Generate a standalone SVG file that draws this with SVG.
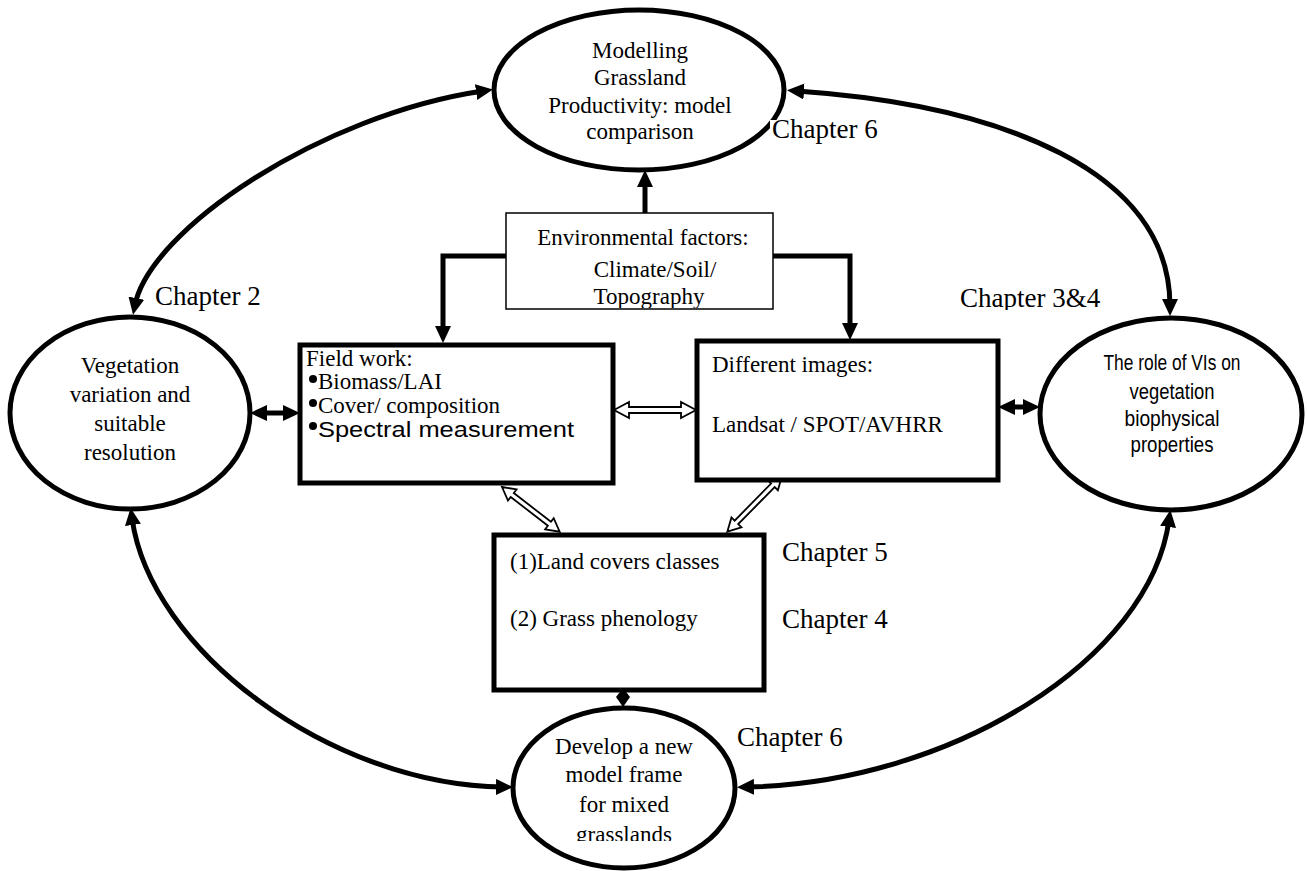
<svg xmlns="http://www.w3.org/2000/svg" width="1307" height="871" viewBox="0 0 1307 871">
<style>
.bg{fill:#fff}
.node{fill:#fff;stroke:#000;stroke-width:5}
.thin{fill:#fff;stroke:#000;stroke-width:1.5}
.t{font-family:"Liberation Serif","Times New Roman",serif;font-size:23px;fill:#000}
.c{text-anchor:middle}
.ch{font-family:"Liberation Serif","Times New Roman",serif;font-size:27px;fill:#000}
.s{font-family:"Liberation Sans",Arial,sans-serif;font-size:22px;fill:#000}
.con{fill:none;stroke:#000;stroke-width:5}
.hol{fill:#fff;stroke:#000;stroke-width:1.8;stroke-linejoin:miter}
</style>
<defs>
<marker id="ah" markerUnits="userSpaceOnUse" markerWidth="18" markerHeight="16" refX="7" refY="8" orient="auto-start-reverse">
<path d="M0,0 L17,8 L0,16 Z" fill="#000"/>
</marker>
<clipPath id="clipEnv"><rect x="507" y="214" width="265" height="94"/></clipPath>
<clipPath id="clipBot"><rect x="500" y="700" width="260" height="141"/></clipPath>
<clipPath id="clipCh34"><rect x="950" y="270" width="170" height="40"/></clipPath>
</defs>
<rect class="bg" x="0" y="0" width="1307" height="871"/>

<g id="connectors">
<path class="con" d="M135,305 C150,230 320,115 483,91" marker-start="url(#ah)" marker-end="url(#ah)"/>
<path class="con" d="M797,91 C1000,105 1170,170 1170,306" marker-start="url(#ah)" marker-end="url(#ah)"/>
<path class="con" d="M132,518 C150,650 330,785 503,787" marker-start="url(#ah)" marker-end="url(#ah)"/>
<path class="con" d="M1169,520 C1150,660 950,783 747,787" marker-start="url(#ah)" marker-end="url(#ah)"/>
<path class="con" d="M645,213 V180" marker-end="url(#ah)"/>
<path class="con" d="M506,256 H443 V333" marker-end="url(#ah)"/>
<path class="con" d="M773,256 H850 V330" marker-end="url(#ah)"/>
<path class="con" d="M260,413 H290" marker-start="url(#ah)" marker-end="url(#ah)"/>
<path class="con" d="M1008,407 H1030" marker-start="url(#ah)" marker-end="url(#ah)"/>
<polygon points="623,688 630,697 623,707 616,697" fill="#000"/>
<g transform="translate(614,410)">
<path class="hol" d="M0,0 L15,-8 L15,-3 L67,-3 L67,-8 L82,0 L67,8 L67,3 L15,3 L15,8 Z"/>
</g>
<g transform="translate(502,487) rotate(37.8)">
<path class="hol" d="M0,0 L13,-7 L13,-2.5 L60,-2.5 L60,-7 L73,0 L60,7 L60,2.5 L13,2.5 L13,7 Z"/>
</g>
<g transform="translate(782,476) rotate(134.5)">
<path class="hol" d="M0,0 L13,-7 L13,-2.5 L65,-2.5 L65,-7 L78,0 L65,7 L65,2.5 L13,2.5 L13,7 Z"/>
</g>
</g>

<g id="n-top">
<ellipse class="node" cx="639" cy="90" rx="145" ry="80"/>
<text class="t c" x="640" y="58">Modelling</text>
<text class="t c" x="640" y="85">Grassland</text>
<text class="t c" x="640" y="113">Productivity: model</text>
<text class="t c" x="640" y="139">comparison</text>
</g>

<g id="n-left">
<ellipse class="node" cx="130" cy="413" rx="120" ry="96"/>
<text class="t c" x="130" y="373">Vegetation</text>
<text class="t c" x="130" y="402">variation and</text>
<text class="t c" x="130" y="431">suitable</text>
<text class="t c" x="130" y="460">resolution</text>
</g>

<g id="n-right">
<ellipse class="node" cx="1171" cy="414" rx="131" ry="96"/>
<text class="s c" x="1172" y="370" textLength="137" lengthAdjust="spacingAndGlyphs">The role of VIs on</text>
<text class="s c" x="1172" y="399" textLength="85" lengthAdjust="spacingAndGlyphs">vegetation</text>
<text class="s c" x="1172" y="426" textLength="95" lengthAdjust="spacingAndGlyphs">biophysical</text>
<text class="s c" x="1172" y="452" textLength="83" lengthAdjust="spacingAndGlyphs">properties</text>
</g>

<g id="n-bottom">
<ellipse class="node" cx="624" cy="788" rx="111" ry="80"/>
<g clip-path="url(#clipBot)">
<text class="t c" x="624" y="754">Develop a new</text>
<text class="t c" x="624" y="782">model frame</text>
<text class="t c" x="624" y="812">for mixed</text>
<text class="t c" x="624" y="842">grasslands</text>
</g>
</g>

<g id="n-env">
<rect class="thin" x="506" y="213" width="267" height="96"/>
<g clip-path="url(#clipEnv)">
<text class="t c" x="643" y="245">Environmental factors:</text>
<text class="t c" x="655" y="277">Climate/Soil/</text>
<text class="t c" x="649" y="304">Topography</text>
</g>
</g>

<g id="n-field">
<rect class="node" x="300" y="345" width="313" height="138"/>
<text class="t" x="306" y="366">Field work:</text>
<circle cx="313" cy="379" r="4"/>
<text class="t" x="318" y="389">Biomass/LAI</text>
<circle cx="313" cy="403" r="4"/>
<text class="t" x="318" y="413">Cover/ composition</text>
<circle cx="313" cy="426" r="4"/>
<text class="s" x="318" y="437" textLength="256" lengthAdjust="spacingAndGlyphs">Spectral measurement</text>
</g>

<g id="n-images">
<rect class="node" x="697" y="341" width="301" height="139"/>
<text class="t" x="712" y="372">Different images:</text>
<text class="t" x="712" y="432">Landsat / SPOT/AVHRR</text>
</g>

<g id="n-land">
<rect class="node" x="494" y="535" width="270" height="155"/>
<text class="t" x="510" y="569">(1)Land covers classes</text>
<text class="t" x="510" y="626">(2) Grass phenology</text>
</g>

<g id="labels">
<rect x="770" y="120" width="14" height="10" fill="#fff"/>
<text class="ch" x="772" y="138">Chapter 6</text>
<text class="ch" x="155" y="305">Chapter 2</text>
<g clip-path="url(#clipCh34)"><text class="ch" x="960" y="307">Chapter 3&amp;4</text></g>
<text class="ch" x="782" y="561">Chapter 5</text>
<text class="ch" x="782" y="628">Chapter 4</text>
<rect x="732" y="730" width="10" height="30" fill="#fff"/>
<text class="ch" x="737" y="746">Chapter 6</text>
</g>
</svg>
